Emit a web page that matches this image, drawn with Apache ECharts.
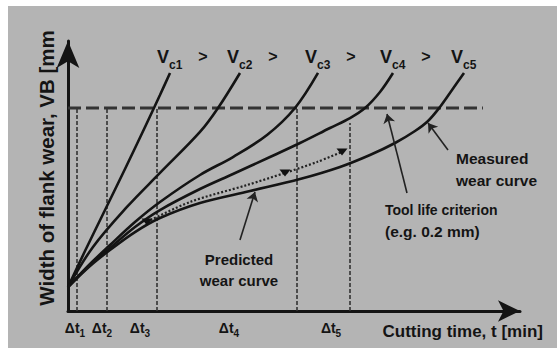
<!DOCTYPE html>
<html><head><meta charset="utf-8">
<script src="https://cdn.jsdelivr.net/npm/echarts@6/dist/echarts.min.js"></script>
<style>html,body{margin:0;padding:0;background:#fff}#c{width:557px;height:356px}</style>
</head><body><div id="c"></div>
<script>
// ---- data (x: cutting time, arbitrary units; y: flank wear VB in mm) ----
const curveKeys = ['c1', 'c2', 'c3', 'c4', 'c5'];
const vc1 = [[0,0.0236],[3.76,0.0591],[8.19,0.0995],[12.61,0.1399],[17.04,0.1813],[20.35,0.2128],[22.57,0.2345]];
const vc2 = [[0,0.0236],[5.53,0.0631],[13.05,0.1025],[20.35,0.136],[29.2,0.1764],[33.19,0.2],[38.05,0.2345]];
const vc3 = [[0,0.0236],[4.87,0.0463],[9.29,0.065],[14.82,0.0877],[20.35,0.1074],[29.2,0.134],[36.5,0.1517],[44.03,0.1734],[50.22,0.2],[55.31,0.2345]];
const vc4 = [[0,0.0236],[4.87,0.0453],[9.29,0.0621],[14.82,0.0828],[20.35,0.0995],[29.2,0.1202],[36.5,0.135],[44.69,0.1517],[51.33,0.1655],[57.96,0.1803],[62.39,0.1901],[65.71,0.2],[69.03,0.2158],[71.9,0.2345]];
const vc5 = [[0,0.0236],[4.87,0.0443],[9.29,0.0601],[14.82,0.0778],[20.35,0.0916],[29.2,0.1064],[40.27,0.1182],[51.33,0.13],[60.18,0.1419],[66.81,0.1537],[72.35,0.1655],[76.77,0.1773],[79.65,0.1872],[82.3,0.201],[84.96,0.2177],[87.61,0.2345]];
const predicted = [[17.48,0.0877],[26.99,0.1074],[39.6,0.1241],[48.01,0.136],[55.09,0.1468],[60.62,0.1567]];
const predictedMarkerIdx = [0, 3, 5];
const criterionVB = 0.2;
const criterionEnd = 91.8;
const intervalX = [1.99, 8.63, 19.69, 50.66, 62.39];
const intervalTop = [0.2, 0.2, 0.2, 0.2, 0.1852];
const dtLabelPos = [1.55, 7.52, 15.93, 35.62, 58.19];
const dtLabels = ['1', '2', '3', '4', '5'];
const predictedArrow = [[38.05,0.07],[41.37,0.1172]];
const measuredArrow = [[84.07,0.1586],[79.65,0.1852]];
const toolLifeArrow = [[75.0,0.1163],[70.58,0.1941]];

const FONT = "'Liberation Sans', Arial, sans-serif";
const INK = '#141414';
const curves = [vc1, vc2, vc3, vc4, vc5];

const chart = echarts.init(document.getElementById('c'), null, {renderer: 'svg'});

const curveSeries = curves.map((pts, i) => ({
  type: 'line',
  data: pts.map((p, j) => j === pts.length - 1 ? {
    value: p,
    label: {
      show: true, position: 'top', distance: 2, align: 'left', offset: [-13, 0],
      formatter: '{v|V}{s|' + curveKeys[i] + '}' + (i < curveKeys.length - 1 ? '{g|>}' : ''),
      rich: {
        v: {fontSize: 18, fontWeight: 'bold', color: INK, fontFamily: FONT},
        s: {fontSize: 12, fontWeight: 'bold', color: INK, fontFamily: FONT, padding: [16, 0, 0, 0]},
        g: {fontSize: 16, fontWeight: 'bold', color: INK, fontFamily: FONT, padding: [0, 0, 0, 16]}
      }
    }
  } : p),
  smooth: 0.35,
  symbol: 'circle', symbolSize: 0, showSymbol: true,
  lineStyle: {color: INK, width: 2.6},
  z: 5, silent: true, animation: false
}));

const option = {
  animation: false,
  backgroundColor: '#ffffff',
  graphic: [
    {type: 'rect', shape: {x: 8, y: 6, width: 549, height: 342}, style: {fill: '#b4b4b4'}, z: -10, silent: true},
    {type: 'text', x: 239, y: 249, z: 10, style: {text: 'Predicted\nwear curve', align: 'center', verticalAlign: 'top', lineHeight: 21, font: "bold 15px " + FONT, fill: INK}},
    {type: 'text', x: 456, y: 147, z: 10, style: {text: 'Measured\nwear curve', align: 'left', verticalAlign: 'top', lineHeight: 22, font: "bold 15.5px " + FONT, fill: INK}},
    {type: 'text', x: 385, y: 203, z: 10, style: {text: 'Tool life criterion', align: 'left', verticalAlign: 'top', font: "bold 14px " + FONT, fill: INK}},
    {type: 'text', x: 385, y: 223, z: 10, style: {text: '(e.g. 0.2 mm)', align: 'left', verticalAlign: 'top', font: "bold 15.5px " + FONT, fill: INK}}
  ],
  grid: {left: 68, right: 37, top: 41, bottom: 45, containLabel: false},
  xAxis: {
    type: 'value', min: 0, max: 100,
    axisLine: {show: true, symbol: ['none', 'arrow'], symbolSize: [16, 22], lineStyle: {color: INK, width: 3}},
    axisTick: {show: false}, splitLine: {show: false},
    axisLabel: {
      show: true, customValues: dtLabelPos, margin: 7,
      formatter: (v) => { const k = dtLabelPos.indexOf(v); return '{d|Δt}{s|' + (k >= 0 ? dtLabels[k] : '') + '}'; },
      rich: {
        d: {fontSize: 14, fontWeight: 'bold', color: INK, fontFamily: FONT},
        s: {fontSize: 10, fontWeight: 'bold', color: INK, fontFamily: FONT, padding: [10, 0, 0, 0]}
      }
    },
    name: 'Cutting time, t [min]', nameLocation: 'end', nameGap: 23,
    nameTextStyle: {align: 'right', verticalAlign: 'top', padding: [12, 0, 0, 0], fontSize: 17, fontWeight: 'bold', color: INK, fontFamily: FONT}
  },
  yAxis: {
    type: 'value', min: 0, max: 0.266,
    axisLine: {show: true, symbol: ['none', 'arrow'], symbolSize: [17, 27], lineStyle: {color: INK, width: 3}},
    axisTick: {show: false}, splitLine: {show: false}, axisLabel: {show: false},
    name: 'Width of flank wear, VB [mm', nameLocation: 'middle', nameRotate: 90, nameGap: 11,
    nameTextStyle: {fontSize: 20.5, fontWeight: 'bold', color: INK, fontFamily: FONT, padding: [0, 0, 0, 16]}
  },
  series: [
    {
      type: 'line', name: 'criterion',
      data: [[0, criterionVB], [criterionEnd, criterionVB]],
      symbol: 'none', lineStyle: {color: '#333', width: 3, type: [13, 5]}, z: 3, silent: true,
      markLine: {
        silent: true, symbol: ['none', 'none'], label: {show: false},
        lineStyle: {color: '#333', width: 1.6, type: [4, 2]},
        data: intervalX.map((x, i) => [{coord: [x, 0]}, {coord: [x, intervalTop[i]]}])
      }
    },
    ...curveSeries,
    {
      type: 'line', name: 'predicted',
      data: predicted.map((p, j) => predictedMarkerIdx.includes(j) ? {value: p, symbol: 'triangle', symbolSize: [11, 7], symbolRotate: 180} : {value: p, symbol: 'none'}),
      showSymbol: true, smooth: 0.3,
      itemStyle: {color: '#111'},
      lineStyle: {color: '#222', width: 2.2, type: [2, 2]}, z: 6, silent: true
    },
    {
      type: 'lines', coordinateSystem: 'cartesian2d', z: 7, silent: true,
      symbol: ['none', 'arrow'], symbolSize: 9,
      lineStyle: {color: '#222', width: 1.6, opacity: 1},
      data: [{coords: predictedArrow}, {coords: measuredArrow}, {coords: toolLifeArrow}]
    }
  ]
};
chart.setOption(option);
</script>
</body></html>
